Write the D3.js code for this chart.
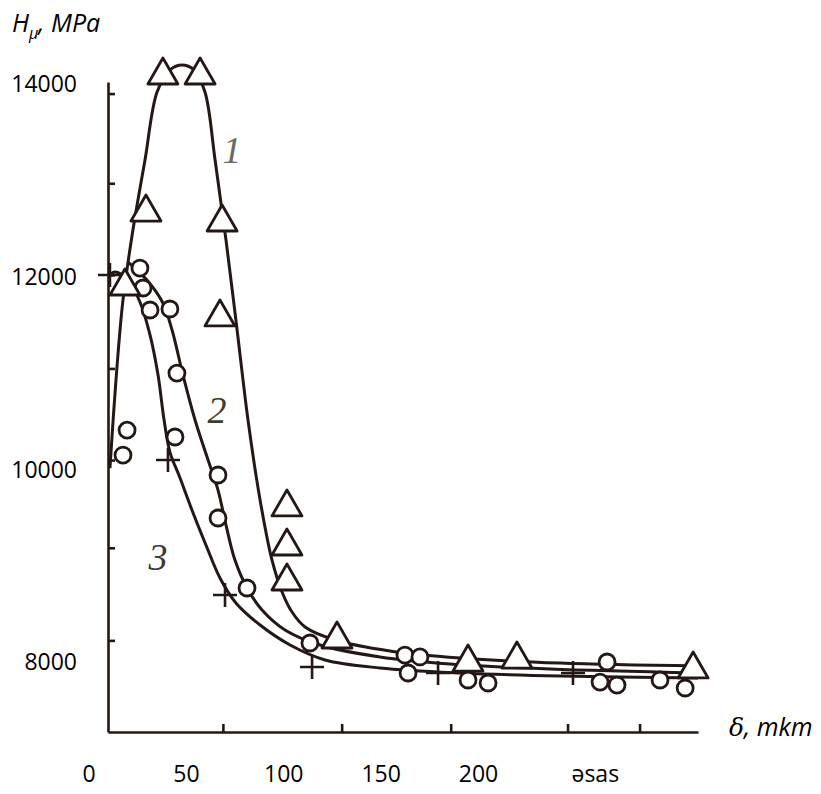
<!DOCTYPE html>
<html>
<head>
<meta charset="utf-8">
<script src="https://cdn.jsdelivr.net/npm/d3@7"></script>
<style>
  body { margin: 0; background: #fff; }
  svg { display: block; }
</style>
</head>
<body>
<div id="chart"></div>
<script>
// tick labels (typed over the scan) and the scan's own tick marks
const depthTicks = [0, 50, 100, 150, 200, 260]
const depthTickText = ['0', '50', '100', '150', '200', 'əsas']
const hardnessTicks = [8000, 10000, 12000, 14000]
const depthScanTicks = [69, 130, 186, 246, 283]
const hardnessScanTicks = [8230, 9190, 10100, 11050, 12020, 12970, 13900]

// drawn curves, [depth mkm, Hμ MPa]
const curve1 = [
    [11.0, 10017], [14.1, 10930], [17.7, 11760], [22.8, 12485], [29.0, 13211],
    [35.2, 13916], [41.8, 14144], [48.0, 14196], [54.2, 14144], [59.8, 13916],
    [65.0, 13211], [70.6, 12382], [76.3, 11449], [81.9, 10515], [88.1, 9686],
    [94.2, 9064], [99.4, 8732], [104.5, 8524], [111.2, 8369], [126.6, 8234],
    [154.8, 8120], [190.8, 8047], [242.2, 7995], [313, 7964]
]
const curve2 = [
    [20.3, 12153], [30.0, 11967], [38.2, 11728], [42.9, 11448], [48.5, 10982],
    [54.7, 10515], [61.4, 10100], [66.5, 9789], [70.6, 9426], [75.2, 9063],
    [81.4, 8773], [89.1, 8545], [100.9, 8338], [118.9, 8182], [149.7, 8058],
    [185.7, 7985], [237.0, 7933], [313, 7892]
]
const curve3 = [
    [11.0, 12019], [13.6, 12050], [20.3, 11967], [26.4, 11739], [31.6, 11396],
    [35.7, 10982], [38.8, 10515], [41.8, 10183], [47.0, 9914], [53.1, 9582],
    [60.3, 9219], [67.5, 8877], [75.7, 8618], [88.1, 8389], [103.5, 8182],
    [121.5, 8027], [149.7, 7944], [190.8, 7892], [242.2, 7860], [313, 7840]
]

// measured points
const triangles = [
    [38.2, 14134], [57.3, 14134], [29.5, 12713], [18.7, 11946], [68.6, 12610],
    [67.5, 11625], [101.9, 9655], [101.9, 9250], [101.9, 8887], [127.6, 8286],
    [194.9, 8047], [220.0, 8078], [310.5, 7975]
]
const circles = [
    [26.4, 12091], [28.0, 11884], [31.6, 11656], [41.8, 11666], [45.4, 11002],
    [19.8, 10411], [17.7, 10152], [44.4, 10339], [66.5, 9945], [66.5, 9499],
    [81.4, 8773], [113.7, 8203], [162.5, 8078], [170.2, 8058], [164.1, 7892],
    [194.9, 7819], [205.2, 7788], [266.3, 8006], [262.7, 7798], [271.4, 7767],
    [293.5, 7819], [306.4, 7736]
]
const crosses = [
    [11.0, 12019], [40.8, 10100], [70.1, 8701], [114.8, 7954], [179.5, 7892], [248.8, 7892]
]

const curveNames = ['1', '2', '3']
const curveLabelPos = [[73.7, 13315], [66.0, 10619], [35.7, 9095]]

const w = 821
const h = 794
const ink = '#231815'

const svg = d3.select('#chart').append('svg').attr('width', w).attr('height', h)

const x = d3.scaleLinear().domain([10, 313]).range([108, 698])
const y = d3.scaleLinear().domain([7280, 14020]).range([732, 82])

// scan axes: lines with inward ticks, no labels
svg.append('g')
    .attr('transform', 'translate(' + x(10) + ',0)')
    .call(d3.axisLeft(y).tickValues(hardnessScanTicks).tickSizeInner(-7).tickSizeOuter(0).tickFormat(''))
    .call(g => g.selectAll('path, line').attr('stroke', ink).attr('stroke-width', 2.6))

svg.append('g')
    .attr('transform', 'translate(0,' + y(7280) + ')')
    .call(d3.axisBottom(x).tickValues(depthScanTicks).tickSizeInner(-8).tickSizeOuter(0).tickFormat(''))
    .call(g => g.selectAll('path, line').attr('stroke', ink).attr('stroke-width', 2.6))

// typed tick labels
svg.append('g')
    .attr('transform', 'translate(' + x(10) + ',0)')
    .call(d3.axisLeft(y).tickValues(hardnessTicks).tickSize(0).tickPadding(31).tickFormat(d => d))
    .call(g => g.select('.domain').remove())
    .call(g => g.selectAll('text')
        .attr('font-family', '"Open Sans", sans-serif')
        .attr('font-size', 23)
        .attr('fill', '#000'))

svg.append('g')
    .attr('transform', 'translate(0,' + y(7280) + ')')
    .call(d3.axisBottom(x).tickValues(depthTicks).tickSize(0).tickPadding(34)
        .tickFormat((d, i) => depthTickText[i]))
    .call(g => g.select('.domain').remove())
    .call(g => g.selectAll('text')
        .attr('font-family', '"Open Sans", sans-serif')
        .attr('font-size', 23)
        .attr('fill', '#000'))

// axis titles
const yTitle = svg.append('text')
    .attr('x', 12)
    .attr('y', 32)
    .attr('font-family', '"Open Sans", sans-serif')
    .attr('font-size', 25)
    .attr('font-style', 'italic')
yTitle.append('tspan').text('H')
yTitle.append('tspan').attr('font-size', 16).attr('dy', 7).text('μ')
yTitle.append('tspan').attr('dy', -7).text(', MPa')

const xTitle = svg.append('text')
    .attr('x', 729)
    .attr('y', 736)
    .attr('font-family', '"Open Sans", sans-serif')
    .attr('font-size', 25)
    .attr('font-style', 'italic')
xTitle.append('tspan').attr('font-family', '"DejaVu Serif", serif').text('δ')
xTitle.append('tspan').text(', mkm')

// curves
const line = d3.line()
    .x(d => x(d[0]))
    .y(d => y(d[1]))
    .curve(d3.curveCatmullRom.alpha(0.5))

svg.selectAll('.curve')
    .data([curve1, curve2, curve3])
    .enter()
    .append('path')
    .attr('class', 'curve')
    .attr('d', line)
    .attr('fill', 'none')
    .attr('stroke', ink)
    .attr('stroke-width', 3)

// markers
svg.selectAll('.cross')
    .data(crosses)
    .enter()
    .append('path')
    .attr('class', 'cross')
    .attr('transform', d => 'translate(' + x(d[0]) + ',' + y(d[1]) + ')')
    .attr('d', 'M-12,0H12M0,-12V12')
    .attr('stroke', ink)
    .attr('stroke-width', 2.6)

svg.selectAll('.circle')
    .data(circles)
    .enter()
    .append('circle')
    .attr('class', 'circle')
    .attr('cx', d => x(d[0]))
    .attr('cy', d => y(d[1]))
    .attr('r', 8)
    .attr('fill', '#fff')
    .attr('stroke', ink)
    .attr('stroke-width', 2.8)

svg.selectAll('.tri')
    .data(triangles)
    .enter()
    .append('path')
    .attr('class', 'tri')
    .attr('transform', d => 'translate(' + x(d[0]) + ',' + y(d[1]) + ')')
    .attr('d', 'M0,-13L15,13L-15,13Z')
    .attr('fill', '#fff')
    .attr('stroke', ink)
    .attr('stroke-width', 2.8)
    .attr('stroke-linejoin', 'round')

// curve numbers
svg.selectAll('.num')
    .data(curveLabelPos)
    .enter()
    .append('text')
    .attr('class', 'num')
    .attr('x', d => x(d[0]))
    .attr('y', d => y(d[1]))
    .attr('text-anchor', 'middle')
    .attr('dominant-baseline', 'central')
    .attr('font-family', '"Liberation Serif", serif')
    .attr('font-style', 'italic')
    .attr('font-size', 38)
    .attr('fill', (d, i) => ['#6a6a60', '#3d3d2c', '#3a3a3a'][i])
    .text((d, i) => curveNames[i])
</script>
</body>
</html>
